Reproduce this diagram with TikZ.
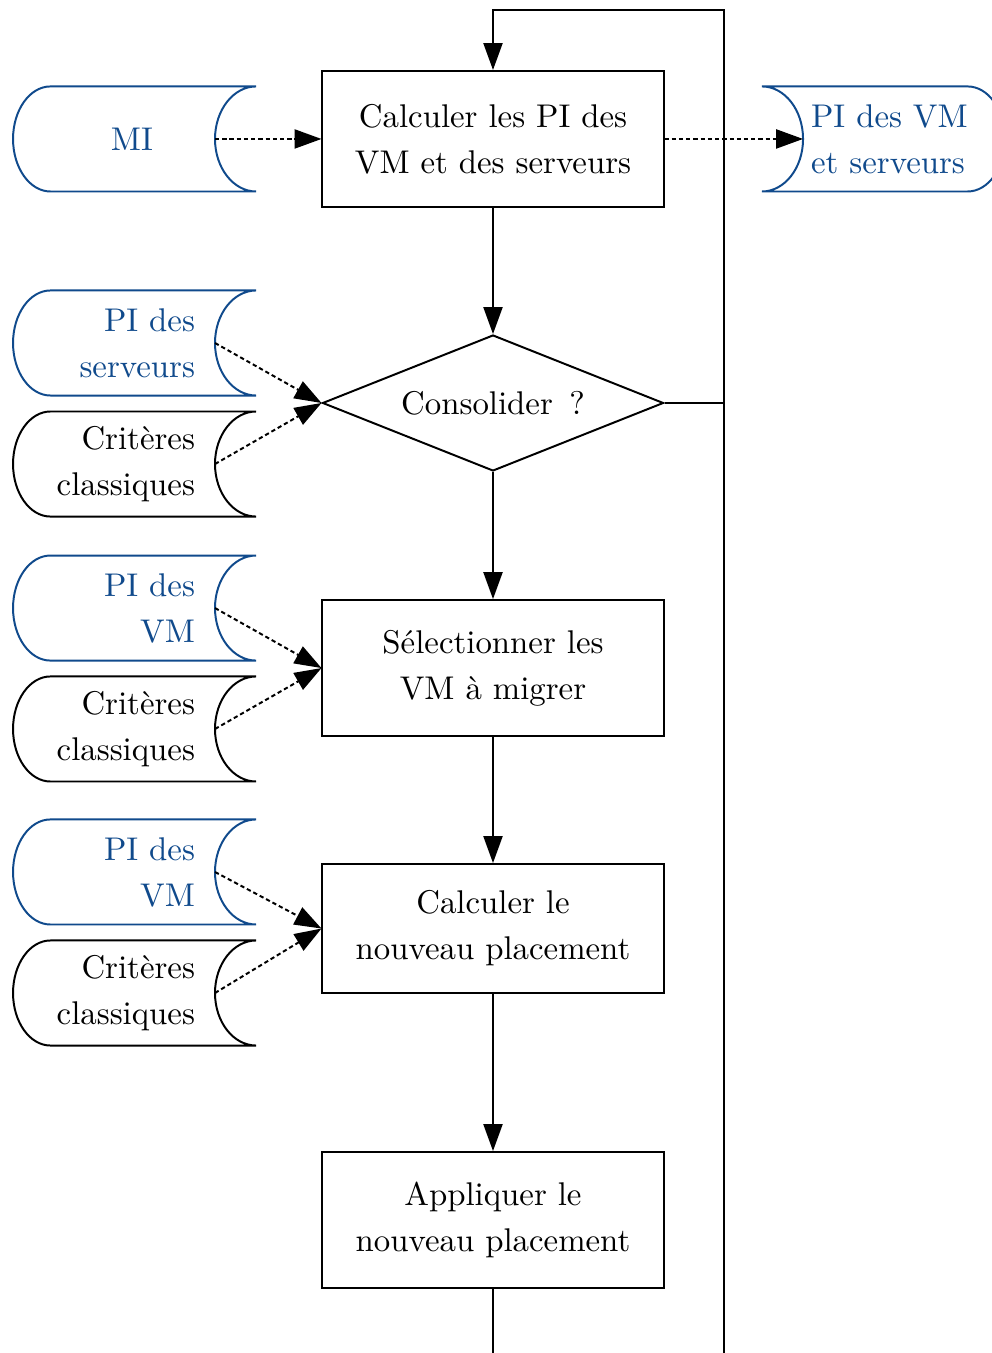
\documentclass[tikz,border=0pt]{standalone}
\usetikzlibrary{shapes.geometric,arrows.meta}

\definecolor{piblue}{RGB}{16,74,140}

% data store, open on the right
\newcommand{\storeL}[2][black]{%
\draw[#1] ([xshift=0.4cm]#2.north west) -- ([xshift=0.44cm]#2.north east) arc (90:270:0.44 and 0.562) -- ([xshift=0.4cm]#2.south west) arc (270:90:0.4 and 0.562);}
% data store, open on the left
\newcommand{\storeR}[2][black]{%
\draw[#1] ([xshift=-0.44cm]#2.north west) arc (90:-90:0.44 and 0.562) -- ([xshift=-0.4cm]#2.south east) arc (-90:90:0.4 and 0.562) -- cycle;}

\begin{document}
\begin{tikzpicture}[semithick, >={Triangle[length=8.2pt,width=5.8pt]},
  box/.style={draw, minimum width=3.649cm, minimum height=1.455cm, align=center, font=\fontsize{10pt}{14pt}\selectfont},
  store/.style={minimum width=2.161cm, minimum height=1.124cm, inner xsep=0.214cm, inner ysep=0pt, outer sep=0pt, text width=1.733cm, align=right, font=\fontsize{10pt}{14pt}\selectfont},
  dots/.style={->, dash pattern=on 1.3pt off 0.9pt}]

\useasboundingbox (0,0) rectangle (10.614,-14.477);
\clip (0,0) rectangle (10.614,-14.477);

% main column
\node[box] (calc) at (5.275,-1.487) {Calculer les PI des\\VM et des serveurs};
\node[draw, diamond, aspect=2.5, inner sep=0pt, minimum width=3.649cm, minimum height=1.455cm, font=\fontsize{10pt}{14pt}\selectfont] (cons) at (5.275,-4.312) {Consolider\ \,?};
\node[box] (sel) at (5.275,-7.148) {Sélectionner les\\VM à migrer};
\node[box, minimum height=1.38cm] (place) at (5.275,-9.935) {Calculer le\\nouveau placement};
\node[box] (apply) at (5.275,-13.054) {Appliquer le\\nouveau placement};

% inputs and output
\node[store, piblue] (mi) at (1.22,-1.487) {MI\kern0.45cm};
\node[store, piblue] (pis) at (1.22,-3.67) {PI des\\serveurs};
\node[store] (crit1) at (1.22,-4.965) {Critères\\classiques};
\node[store, piblue] (pivm1) at (1.22,-6.506) {PI des\\VM};
\node[store] (crit2) at (1.22,-7.8) {Critères\\classiques};
\node[store, piblue] (pivm2) at (1.22,-9.33) {PI des\\VM};
\node[store] (crit3) at (1.22,-10.625) {Critères\\classiques};
\node[store, piblue, align=left, inner xsep=0.086cm, text width=1.989cm] (out) at (9.673,-1.487) {PI des VM\\et serveurs};

\storeL[piblue]{mi}
\storeL[piblue]{pis}
\storeL{crit1}
\storeL[piblue]{pivm1}
\storeL{crit2}
\storeL[piblue]{pivm2}
\storeL{crit3}
\storeR[piblue]{out}

\draw[dots] (mi.east) -- (calc.west);
\draw[dots] (calc.east) -- (out.west);
\draw[dots] (pis.east) -- (cons.west);
\draw[dots] (crit1.east) -- (cons.west);
\draw[dots] (pivm1.east) -- (sel.west);
\draw[dots] (crit2.east) -- (sel.west);
\draw[dots] (pivm2.east) -- (place.west);
\draw[dots] (crit3.east) -- (place.west);

\draw[->] (calc.south) -- (cons.north);
\draw[->] (cons.south) -- (sel.north);
\draw[->] (sel.south) -- (place.north);
\draw[->] (place.south) -- (apply.north);

% loop back
\coordinate (bot) at (5.275,-14.8);
\coordinate (top) at (7.747,-0.107);
\draw[->] (apply.south) -- (bot) -| (top) -| (calc.north);
\draw (cons.east) -- (cons.east -| top);

\end{tikzpicture}
\end{document}
